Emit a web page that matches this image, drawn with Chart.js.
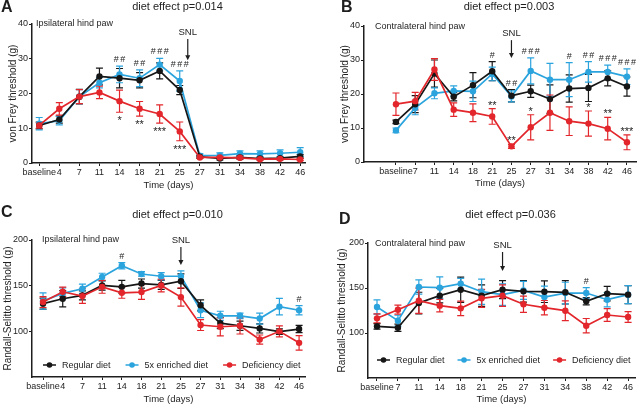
<!DOCTYPE html>
<html>
<head>
<meta charset="utf-8">
<script src="https://cdn.jsdelivr.net/npm/chart.js@4.4.1/dist/chart.umd.min.js"></script>
<style>
  body { margin: 0; background: #fff; }
  canvas { position: absolute; }
</style>
</head>
<body>
<canvas id="chartA" width="320" height="200" style="left:0;top:0"></canvas>
<canvas id="chartB" width="320" height="200" style="left:320px;top:0"></canvas>
<canvas id="chartC" width="320" height="205" style="left:0;top:200px"></canvas>
<canvas id="chartD" width="320" height="205" style="left:320px;top:200px"></canvas>
<script>
// time points
const ipsiDays = ['baseline', '4', '7', '11', '14', '18', '21', '25', '27', '31', '34', '38', '42', '46'];
const contraDays = ['baseline', '7', '11', '14', '18', '21', '25', '27', '31', '34', '38', '42', '46'];
const vonFreyTicks = [0, 10, 20, 30, 40];
const randallTicks = [100, 150, 200];

// A - von Frey, ipsilateral
const aRegular = [10.8, 12.5, 19.1, 24.9, 24.4, 23.8, 26.5, 21.0, 1.8, 1.3, 1.6, 1.3, 1.4, 1.9];
const aRegularErr = [1.0, 1.0, 2.1, 2.4, 2.8, 2.2, 2.3, 1.3, 0.4, 0.4, 0.5, 0.4, 0.4, 0.5];
const aEnriched = [11.3, 12.2, 19.1, 23.1, 25.5, 24.4, 28.3, 23.6, 2.1, 2.2, 2.7, 2.6, 2.8, 3.1];
const aEnrichedErr = [1.8, 1.2, 2.0, 1.5, 2.4, 2.4, 1.8, 2.9, 0.6, 0.7, 0.8, 0.9, 1.0, 1.3];
const aDeficiency = [10.8, 15.6, 19.1, 20.3, 17.8, 15.6, 14.1, 9.1, 1.6, 1.6, 1.5, 1.1, 1.2, 1.0];
const aDeficiencyErr = [0.8, 1.8, 2.0, 1.8, 3.2, 2.1, 2.6, 2.7, 0.3, 0.3, 0.3, 0.3, 0.3, 0.3];
const aHashes = [[4, '##'], [5, '##'], [6, '###'], [7, '###']];
const aStars = [[4, '*'], [5, '**'], [6, '***'], [7, '***']];

// B - von Frey, contralateral
const bRegular = [11.8, 17.0, 26.0, 19.2, 22.6, 26.7, 19.5, 20.8, 18.5, 21.6, 21.8, 24.6, 22.2];
const bRegularErr = [0.5, 2.5, 4.0, 1.2, 3.7, 2.8, 1.8, 1.8, 4.2, 4.0, 4.0, 2.2, 2.8];
const bEnriched = [9.3, 15.9, 20.2, 20.9, 20.8, 25.9, 19.3, 26.8, 24.2, 24.2, 26.5, 26.5, 25.1];
const bEnrichedErr = [0.7, 2.0, 1.6, 1.5, 3.0, 2.0, 1.6, 3.8, 4.8, 5.0, 3.0, 2.0, 2.3];
const bDeficiency = [17.0, 17.9, 27.2, 15.4, 14.5, 13.4, 4.6, 10.2, 14.5, 12.0, 11.3, 9.8, 5.8];
const bDeficiencyErr = [3.3, 2.6, 3.2, 2.0, 2.6, 2.3, 0.6, 3.7, 5.2, 4.2, 3.7, 3.3, 2.2];
const bHashes = [[5, '#'], [6, '##'], [7, '###'], [9, '#'], [10, '##'], [11, '###'], [12, '###']];
const bStars = [[5, '**'], [6, '**'], [7, '*'], [10, '*'], [11, '**'], [12, '***']];

// C - Randall-Selitto, ipsilateral
const cRegular = [130.3, 135.7, 139.4, 150.2, 148.7, 152.3, 150.9, 154.9, 128.5, 109.0, 106.1, 103.2, 99.6, 102.5];
const cRegularErr = [6, 9, 5, 5, 7, 5, 5, 8, 6, 6, 5, 5, 3, 4];
const cEnriched = [133.2, 141.5, 146.6, 159.6, 171.8, 162.8, 160.3, 160.3, 123.1, 117.0, 117.0, 114.0, 127.0, 123.1];
const cEnrichedErr = [9, 6, 5, 4, 3.5, 2.5, 4, 6, 8, 5, 3, 6, 9, 5];
const cDeficiency = [132.1, 143.3, 138.6, 148.7, 142.2, 143.0, 150.2, 137.5, 106.9, 105.0, 106.1, 91.0, 100.0, 87.4];
const cDeficiencyErr = [6, 5, 8, 7, 6, 8, 7, 10, 6, 10, 9, 5, 6, 8];
const cHashes = [[4, '#'], [13, '#']];

// D - Randall-Selitto, contralateral
const dRegular = [107.4, 105.9, 133.3, 141.5, 148.1, 141.5, 148.1, 146.3, 145.9, 145.2, 135.2, 143.7, 142.6];
const dRegularErr = [3, 4, 12, 8, 14, 12, 10, 12, 12, 13, 4, 8, 10];
const dEnriched = [128.9, 113.7, 151.1, 150.4, 154.8, 145.9, 142.6, 147.4, 140.0, 144.4, 144.4, 137.0, 142.6];
const dEnrichedErr = [8, 6, 8, 12, 6, 14, 12, 10, 12, 12, 6, 8, 10];
const dDeficiency = [116.3, 125.9, 135.9, 130.4, 127.4, 138.5, 141.5, 131.9, 128.1, 124.8, 108.1, 120.0, 117.8];
const dDeficiencyErr = [5, 5, 14, 7, 8, 10, 12, 9, 8, 11, 8, 7, 6];
const dHashes = [[10, '#']];

const FONT = "'Liberation Sans', Arial, Helvetica, sans-serif";
const INK = '#1e1e1e';
const colors = { regular: '#161616', enriched: '#2ba4de', deficiency: '#e2262b' };

Chart.defaults.font.family = FONT;
Chart.defaults.color = INK;

// vertical SEM bars with caps, drawn under the lines
const errorBars = {
    id: 'errorBars',
    beforeDatasetsDraw(chart) {
        const ctx = chart.ctx;
        const y = chart.scales.y;
        chart.data.datasets.forEach((ds, di) => {
            const meta = chart.getDatasetMeta(di);
            ctx.save();
            ctx.strokeStyle = ds.borderColor;
            ctx.lineWidth = 1.2;
            meta.data.forEach((pt, i) => {
                const v = ds.data[i].y, e = ds.errors[i];
                const top = y.getPixelForValue(v + e), bot = y.getPixelForValue(v - e);
                ctx.beginPath();
                ctx.moveTo(pt.x, top); ctx.lineTo(pt.x, bot);
                ctx.moveTo(pt.x - 3.5, top); ctx.lineTo(pt.x + 3.5, top);
                ctx.moveTo(pt.x - 3.5, bot); ctx.lineTo(pt.x + 3.5, bot);
                ctx.stroke();
            });
            ctx.restore();
        });
    }
};

// titles, panel letters, SNL arrow, significance marks, legend
const decor = {
    id: 'decor',
    afterDraw(chart, args, o) {
        const { ctx, chartArea: a, scales: { x, y } } = chart;
        const sets = chart.data.datasets;
        ctx.save();
        ctx.fillStyle = INK;
        ctx.strokeStyle = INK;

        ctx.font = `bold 16px ${FONT}`;
        ctx.textAlign = 'left';
        ctx.textBaseline = 'top';
        ctx.fillText(o.letter, o.letterX, o.letterY);

        ctx.font = `11px ${FONT}`;
        ctx.textAlign = 'center';
        ctx.textBaseline = 'middle';
        ctx.fillText(o.title, (a.left + a.right) / 2 + 9, o.titleY);

        ctx.font = `9px ${FONT}`;
        ctx.textAlign = 'left';
        ctx.fillText(o.paw, a.left + o.pawDx, a.top + o.pawDy);

        // SNL arrow
        const sx = x.getPixelForValue(o.snlAt);
        const ty = y.getPixelForValue(o.snlText);
        const tip = y.getPixelForValue(o.snlTip);
        ctx.font = `9.5px ${FONT}`;
        ctx.textAlign = 'center';
        ctx.fillText('SNL', sx, ty);
        ctx.lineWidth = 1.2;
        ctx.beginPath();
        ctx.moveTo(sx, ty + 7); ctx.lineTo(sx, tip - 4);
        ctx.stroke();
        ctx.beginPath();
        ctx.moveTo(sx - 2.5, tip - 5); ctx.lineTo(sx + 2.5, tip - 5); ctx.lineTo(sx, tip);
        ctx.closePath();
        ctx.fill();

        // # above the highest bar
        ctx.font = `9px ${FONT}`;
        ctx.textBaseline = 'alphabetic';
        ctx.letterSpacing = '1.5px';
        (o.hashes || []).forEach(([i, t]) => {
            const top = Math.min(...sets.map(d => y.getPixelForValue(d.data[i].y + d.errors[i])));
            ctx.fillText(t, x.getPixelForValue(i) + 0.75, top - 4);
        });
        ctx.letterSpacing = '0px';

        // * next to the deficiency series
        const def = sets.find(d => d.key === 'deficiency');
        ctx.font = `11px ${FONT}`;
        (o.stars || []).forEach(([i, t]) => {
            const v = def.data[i].y, e = def.errors[i];
            const yy = o.starsAbove ? y.getPixelForValue(v + e) : y.getPixelForValue(v - e) + 12;
            ctx.fillText(t, x.getPixelForValue(i), yy);
        });

        // legend inside the plot
        if (o.legend) {
            const ly = a.bottom - o.legend.dy;
            let lx = o.legend.x;
            ctx.font = `9px ${FONT}`;
            ctx.textBaseline = 'middle';
            ctx.textAlign = 'left';
            ['regular', 'enriched', 'deficiency'].forEach(k => {
                const d = sets.find(s => s.key === k);
                ctx.strokeStyle = d.borderColor;
                ctx.fillStyle = d.borderColor;
                ctx.lineWidth = 1.5;
                ctx.beginPath();
                ctx.moveTo(lx, ly); ctx.lineTo(lx + 13, ly);
                ctx.stroke();
                ctx.beginPath();
                ctx.arc(lx + 6.5, ly, 2.8, 0, Math.PI * 2);
                ctx.fill();
                ctx.fillStyle = INK;
                ctx.fillText(d.label, lx + 19, ly + 0.5);
                lx += 19 + ctx.measureText(d.label).width + o.legend.gap;
            });
        }
        ctx.restore();
    }
};

function series(key, label, values, errors, order) {
    return {
        key, label, order, errors,
        data: values.map((v, i) => ({ x: i, y: v })),
        borderColor: colors[key],
        backgroundColor: colors[key],
        borderWidth: 1.7,
        pointRadius: 3.2,
        pointBorderWidth: 0,
        tension: 0
    };
}

function makeChart(id, p) {
    return new Chart(document.getElementById(id), {
        type: 'line',
        data: {
            datasets: [
                series('regular', 'Regular diet', p.regular, p.regularErr, 2),
                series('enriched', '5x enriched diet', p.enriched, p.enrichedErr, 3),
                series('deficiency', 'Deficiency diet', p.deficiency, p.deficiencyErr, 1)
            ]
        },
        options: {
            responsive: false,
            animation: false,
            layout: { padding: p.padding },
            plugins: {
                legend: { display: false },
                tooltip: { enabled: false },
                decor: p.decor
            },
            scales: {
                x: {
                    type: 'linear',
                    min: p.xMin,
                    max: p.xMax,
                    afterBuildTicks: s => { s.ticks = p.labels.map((_, i) => ({ value: i })); },
                    afterFit: s => { s.height = p.xHeight; },
                    ticks: {
                        callback: v => p.labels[v],
                        autoSkip: false, maxRotation: 0, padding: 1,
                        font: { size: 9 }, color: INK
                    },
                    grid: { drawOnChartArea: false, tickLength: 3, color: INK, lineWidth: 1 },
                    border: { color: INK, width: 1.5 },
                    title: {
                        display: true, text: 'Time (days)', color: INK,
                        font: { size: 9.5 }, padding: { top: 0, bottom: p.xTitlePad }
                    }
                },
                y: {
                    min: p.yMin,
                    max: p.yMax,
                    afterBuildTicks: s => { s.ticks = p.yTicks.map(v => ({ value: v })); },
                    afterFit: s => { s.width = p.yWidth; },
                    ticks: { padding: 1, font: { size: 9 }, color: INK },
                    grid: { drawOnChartArea: false, tickLength: 3, color: INK, lineWidth: 1 },
                    border: { color: INK, width: 1.5 },
                    title: {
                        display: true, text: p.yTitle, color: INK,
                        font: { size: 10 }, padding: { top: p.yTitlePad, bottom: 0 }
                    }
                }
            }
        },
        plugins: [errorBars, decor]
    });
}

makeChart('chartA', {
    labels: ipsiDays, xMin: -0.36, xMax: 13.24,
    yMin: 0, yMax: 40, yTicks: vonFreyTicks, yTitle: 'von Frey threshold (g)',
    regular: aRegular, regularErr: aRegularErr,
    enriched: aEnriched, enrichedErr: aEnrichedErr,
    deficiency: aDeficiency, deficiencyErr: aDeficiencyErr,
    padding: { top: 24, left: 0, right: 15, bottom: 0 },
    yWidth: 32, xHeight: 37, xTitlePad: 9, yTitlePad: 7,
    decor: {
        letter: 'A', letterX: 1, letterY: 0, title: 'diet effect p=0.014', titleY: 7,
        paw: 'Ipsilateral hind paw', pawDx: 4, pawDy: 0,
        snlAt: 7.4, snlText: 37.7, snlTip: 29.6,
        hashes: aHashes, stars: aStars, starsAbove: false
    }
});

makeChart('chartB', {
    labels: contraDays, xMin: -1.66, xMax: 12.47,
    yMin: 0, yMax: 40, yTicks: vonFreyTicks, yTitle: 'von Frey threshold (g)',
    regular: bRegular, regularErr: bRegularErr,
    enriched: bEnriched, enrichedErr: bEnrichedErr,
    deficiency: bDeficiency, deficiencyErr: bDeficiencyErr,
    padding: { top: 26, left: 0, right: 3, bottom: 0 },
    yWidth: 44, xHeight: 38, xTitlePad: 11, yTitlePad: 19,
    decor: {
        letter: 'B', letterX: 21, letterY: 0, title: 'diet effect p=0.003', titleY: 7,
        paw: 'Contralateral hind paw', pawDx: 11, pawDy: 1,
        snlAt: 6, snlText: 37.9, snlTip: 30.6,
        hashes: bHashes, stars: bStars, starsAbove: true
    }
});

makeChart('chartC', {
    labels: ipsiDays, xMin: -0.56, xMax: 13.3,
    yMin: 50, yMax: 200, yTicks: randallTicks, yTitle: 'Randall-Selitto threshold (g)',
    regular: cRegular, regularErr: cRegularErr,
    enriched: cEnriched, enrichedErr: cEnrichedErr,
    deficiency: cDeficiency, deficiencyErr: cDeficiencyErr,
    padding: { top: 40, left: 0, right: 15, bottom: 0 },
    yWidth: 32, xHeight: 28, xTitlePad: 0, yTitlePad: 2,
    decor: {
        letter: 'C', letterX: 1, letterY: 5, title: 'diet effect p=0.010', titleY: 15,
        paw: 'Ipsilateral hind paw', pawDx: 10, pawDy: 0,
        snlAt: 7, snlText: 200, snlTip: 172.6,
        hashes: cHashes, stars: [],
        legend: { x: 43, dy: 12, gap: 15 }
    }
});

makeChart('chartD', {
    labels: contraDays, xMin: -0.43, xMax: 12.33,
    yMin: 50, yMax: 200, yTicks: randallTicks, yTitle: 'Randall-Selitto threshold (g)',
    regular: dRegular, regularErr: dRegularErr,
    enriched: dEnriched, enrichedErr: dEnrichedErr,
    deficiency: dDeficiency, deficiencyErr: dDeficiencyErr,
    padding: { top: 43, left: 0, right: 5, bottom: 0 },
    yWidth: 48, xHeight: 27, xTitlePad: 0, yTitlePad: 16,
    decor: {
        letter: 'D', letterX: 19, letterY: 12, title: 'diet effect p=0.036', titleY: 15,
        paw: 'Contralateral hind paw', pawDx: 7, pawDy: 1,
        snlAt: 6, snlText: 197.8, snlTip: 168.9,
        hashes: dHashes, stars: [],
        legend: { x: 57, dy: 18, gap: 13 }
    }
});
</script>
</body>
</html>
